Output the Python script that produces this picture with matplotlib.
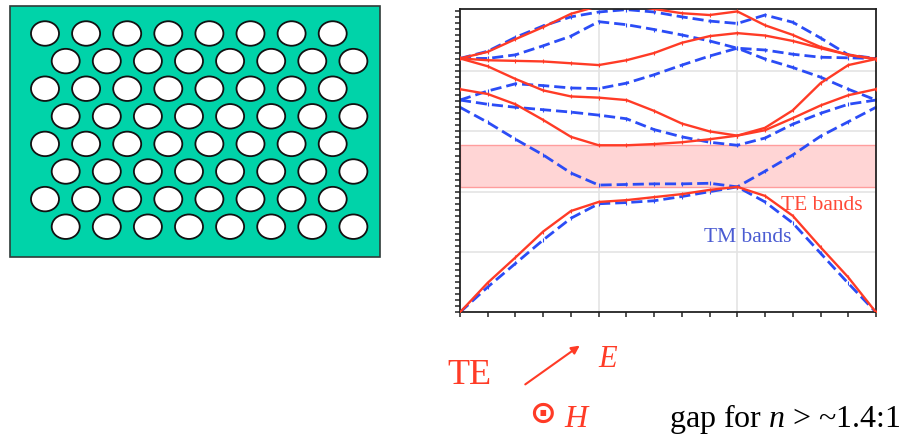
import matplotlib
matplotlib.use("Agg")
import matplotlib.pyplot as plt
from matplotlib.patches import Rectangle, Ellipse
import numpy as np

# ---------------- data ----------------
k_path = [0.0, 0.2, 0.4, 0.6, 0.8, 1.0, 1.2, 1.4, 1.6, 1.8, 2.0, 2.2, 2.4, 2.6, 2.8, 3.0]

te_bands = [
    [0.00, 0.49, 0.91, 1.34, 1.68, 1.83, 1.86, 1.91, 1.96, 2.03, 2.08, 1.93, 1.60, 1.08, 0.58, 0.00],
    [3.70, 3.62, 3.45, 3.19, 2.91, 2.77, 2.77, 2.79, 2.82, 2.87, 2.93, 3.02, 3.22, 3.43, 3.60, 3.70],
    [4.21, 4.08, 3.87, 3.68, 3.58, 3.56, 3.52, 3.34, 3.13, 3.00, 2.93, 3.06, 3.35, 3.80, 4.10, 4.20],
    [4.21, 4.18, 4.17, 4.16, 4.13, 4.10, 4.18, 4.30, 4.47, 4.58, 4.63, 4.59, 4.50, 4.38, 4.27, 4.20],
    [4.21, 4.32, 4.53, 4.73, 4.95, 5.08, 5.10, 5.03, 4.96, 4.93, 4.99, 4.76, 4.60, 4.40, 4.27, 4.20],
]

tm_bands = [
    [0.00, 0.42, 0.81, 1.20, 1.56, 1.80, 1.82, 1.85, 1.92, 2.00, 2.08, 1.83, 1.48, 0.98, 0.48, 0.00],
    [3.40, 3.15, 2.87, 2.61, 2.31, 2.11, 2.12, 2.13, 2.13, 2.14, 2.08, 2.34, 2.61, 2.92, 3.16, 3.40],
    [3.52, 3.67, 3.79, 3.76, 3.72, 3.71, 3.80, 3.94, 4.10, 4.25, 4.38, 4.20, 4.06, 3.90, 3.70, 3.52],
    [3.52, 3.45, 3.40, 3.36, 3.32, 3.27, 3.21, 3.03, 2.91, 2.82, 2.77, 2.89, 3.12, 3.30, 3.45, 3.52],
    [4.21, 4.21, 4.27, 4.42, 4.58, 4.82, 4.77, 4.69, 4.60, 4.50, 4.38, 4.35, 4.28, 4.23, 4.22, 4.21],
    [4.21, 4.33, 4.56, 4.75, 4.90, 4.98, 5.02, 4.98, 4.90, 4.83, 4.79, 4.93, 4.81, 4.55, 4.27, 4.21],
]

te_label = "TE bands"
tm_label = "TM bands"

# ---------------- style ----------------
RED = "#ff3b26"
BLUE = "#2b4cf6"
SERIF = "Liberation Serif"
plt.rcParams["mathtext.fontset"] = "custom"
plt.rcParams["mathtext.rm"] = SERIF
plt.rcParams["mathtext.it"] = SERIF + ":italic"

W, H = 913, 436
fig = plt.figure(figsize=(W / 100, H / 100), dpi=100)

# ---------------- band diagram ----------------
x0, x1, ytop, ybot = 460, 876, 9, 312.3
ax = fig.add_axes([x0 / W, 1 - ybot / H, (x1 - x0) / W, (ybot - ytop) / H])
ax.set_xlim(0, 3)
ax.set_ylim(0, 5.03)

for v in [1, 2]:
    ax.axvline(v, color="#e4e4e4", lw=1.2, zorder=0)
for v in [1, 2, 3, 4]:
    ax.axhline(v, color="#e4e4e4", lw=1.2, zorder=0)

gap_lo = max(te_bands[0])
gap_hi = min(te_bands[1])
ax.axhspan(gap_lo, gap_hi, facecolor="#ffd5d5", edgecolor="#ff9d9d", lw=1.0, zorder=1)

for band in te_bands:
    ax.plot(k_path, band, color=RED, lw=1.7, marker="|", ms=3, mew=0.8, zorder=3)
for band in tm_bands:
    ln, = ax.plot(k_path, band, color=BLUE, lw=2.0, marker="|", ms=3, mew=0.8, zorder=2)
    ln.set_dashes([4.0, 1.8])

ax.set_xticks(np.arange(0, 3.01, 0.2))
ax.set_yticks(np.arange(0, 5.01, 0.1))
ax.tick_params(direction="out", length=3.5, width=1.1, color="#222222",
               labelbottom=False, labelleft=False)
for s in ax.spines.values():
    s.set_color("#222222")
    s.set_linewidth(1.3)

# ---------------- overlay (pixel coordinates) ----------------
ov = fig.add_axes([0, 0, 1, 1], zorder=5)
ov.set_xlim(0, W)
ov.set_ylim(H, 0)
ov.axis("off")
ov.patch.set_alpha(0)

# left panel: photonic crystal slab
ov.add_patch(Rectangle((10, 6), 370, 251, facecolor="#00d3a9", edgecolor="#2f3b38", lw=1.2))
n_rows, n_cols = 8, 8
for r in range(n_rows):
    y = 33.5 + r * 27.6
    xs = 45 + (20.7 if r % 2 else 0)
    for c in range(n_cols):
        ov.add_patch(Ellipse((xs + c * 41.1, y), 28, 24.5, facecolor="white",
                             edgecolor="#111111", lw=1.3))

# labels inside band diagram
ov.text(781, 209.5, te_label, color="#ff4a38", fontsize=15.5, family=SERIF,
        ha="left", va="baseline")
ov.text(704, 242, tm_label, color="#4a5bd2", fontsize=15.5, family=SERIF,
        ha="left", va="baseline")

# bottom annotations
ov.text(447, 383.5, "TE", color=RED, fontsize=26, family=SERIF, ha="left", va="baseline")
ov.annotate("", xy=(582, 344), xytext=(523, 386),
            arrowprops=dict(arrowstyle="-|>", color=RED, lw=1.5, mutation_scale=12))
ov.text(598, 367, "E", color=RED, fontsize=22, family=SERIF, style="italic",
        ha="left", va="baseline")
ov.text(543, 414, "\u2299", color=RED, fontsize=23, fontweight="bold",
        family="DejaVu Sans", ha="center", va="center")
ov.text(564, 427, "H", color=RED, fontsize=23, family=SERIF, style="italic",
        ha="left", va="baseline")
ov.text(669, 427, r"gap for $n$ > ~1.4:1", color="black", fontsize=23, family=SERIF,
        ha="left", va="baseline")

fig.savefig("out.png", dpi=100)
